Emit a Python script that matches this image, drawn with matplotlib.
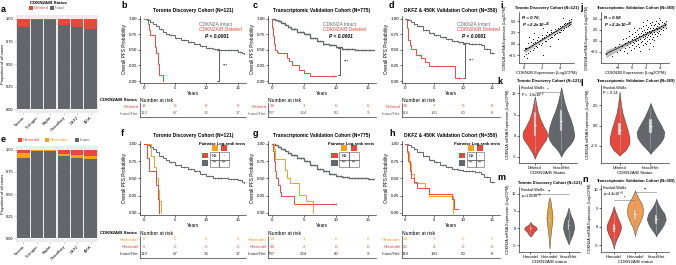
import numpy as np
import matplotlib
matplotlib.use("Agg")
import matplotlib.pyplot as plt
from matplotlib.patches import Rectangle

plt.rcParams['font.family'] = ['Liberation Sans', 'DejaVu Sans']
plt.rcParams['axes.linewidth'] = 0.4
plt.rcParams['xtick.major.width'] = 0.4
plt.rcParams['ytick.major.width'] = 0.4
plt.rcParams['xtick.major.size'] = 1.2
plt.rcParams['ytick.major.size'] = 1.2
plt.rcParams['xtick.major.pad'] = 1
plt.rcParams['ytick.major.pad'] = 1
plt.rcParams['axes.labelpad'] = 1
plt.rcParams['mathtext.default'] = 'regular'

# ---------------- data ----------------
cohorts = ["Toronto", "Tubingen", "Baylor", "Choudhury", "DKFZ", "450K"]
deleted_prop = [0.09, 0.02, 0.02, 0.07, 0.09, 0.11]
intact_prop = [0.91, 0.98, 0.98, 0.93, 0.91, 0.89]
homodel_prop = [0.04, 0.005, 0.01, 0.05, 0.06, 0.07]
heterodel_prop = [0.05, 0.015, 0.01, 0.02, 0.03, 0.04]

year_ticks = [0, 5, 10, 15]

# Toronto (b / f)
b_intact_t = [0, 0.5, 1.0, 1.5, 2.0, 2.5, 3.0, 3.5, 4.0, 5.0, 6.0, 7.0, 8.0, 9.0, 10.0, 11.0, 12.0, 13.5, 15.0, 15.6, 16.0]
b_intact_s = [1.0, 0.98, 0.95, 0.92, 0.88, 0.83, 0.79, 0.76, 0.73, 0.69, 0.66, 0.63, 0.60, 0.56, 0.53, 0.51, 0.50, 0.49, 0.47, 0.45, 0.43]
b_intact_cens = [2.8, 3.6, 4.3, 5.2, 5.9, 6.4, 7.1, 7.6, 8.2, 8.8, 9.3, 9.9, 10.4, 10.9, 11.3, 11.8, 12.3, 12.9, 13.4, 13.9, 14.4, 14.9, 15.3]
b_del_t = [0, 0.6, 0.8, 1.0, 1.8, 2.0, 2.2, 2.5, 3.0]
b_del_s = [1.0, 0.91, 0.82, 0.73, 0.55, 0.45, 0.27, 0.09, 0.0]

# Transcriptomic (c / g)
c_intact_t = [0, 0.5, 1, 1.5, 2, 2.5, 3, 4, 5, 6, 7, 8, 9, 10, 11, 12, 13, 14, 15, 16]
c_intact_s = [1, 0.98, 0.96, 0.93, 0.90, 0.87, 0.84, 0.79, 0.75, 0.69, 0.64, 0.60, 0.57, 0.54, 0.52, 0.51, 0.50, 0.50, 0.49, 0.49]
c_intact_cens = [0.4, 0.7, 1.1, 1.3, 1.7, 1.9, 2.2, 2.6, 2.8, 3.1, 3.5, 3.7, 4.0, 4.4, 4.6, 4.9, 5.3, 5.5, 5.8, 6.2, 6.4, 6.7, 7.1, 7.3, 7.6, 8.0, 8.2, 8.5, 8.9, 9.1, 9.4, 9.8, 10.0,
                 10.4, 10.9, 11.2, 11.7, 12.0, 12.6, 13.0, 13.5, 14.1, 14.6, 15.2]
c_del_t = [0, 0.1, 0.2, 0.3, 0.5, 0.8, 1.0, 2.3, 2.7, 3.2, 4.2, 5.0, 6.0, 10.0]
c_del_s = [1, 0.85, 0.72, 0.60, 0.50, 0.47, 0.45, 0.37, 0.32, 0.26, 0.18, 0.13, 0.08, 0.08]
c_del_cens = [9.4, 9.8]

# DKFZ & 450K (d / h)
d_intact_t = [0, 0.5, 1, 1.5, 2, 3, 4, 5, 6, 7, 8, 9, 10, 11, 12, 13, 13.6, 14.6, 15.2]
d_intact_s = [1, 0.98, 0.95, 0.92, 0.88, 0.82, 0.77, 0.73, 0.70, 0.67, 0.64, 0.62, 0.61, 0.60, 0.59, 0.57, 0.52, 0.45, 0.45]
d_intact_cens = [1.5, 2.3, 3.0, 3.6, 4.2, 4.8, 5.3, 5.9, 6.4, 6.9, 7.4, 7.9, 8.4, 8.9, 9.4, 9.9, 10.4, 10.9, 11.5, 12.0, 12.6, 13.2, 14.0, 14.9]
d_del_t = [0, 0.3, 0.5, 0.8, 1.0, 1.8, 2.7, 3.4, 4.0, 8.6, 9.5]
d_del_s = [1, 0.85, 0.65, 0.58, 0.52, 0.42, 0.37, 0.30, 0.24, 0.05, 0.05]
d_del_cens = [2.5, 5.5, 9.3]

f_het_t = [0, 1.2, 1.7, 2.0, 2.2, 2.4, 2.8]
f_het_s = [1, 0.83, 0.67, 0.50, 0.33, 0.17, 0.0]
f_homo_t = [0, 0.5, 0.8, 2.0, 2.2, 2.4]
f_homo_s = [1, 0.80, 0.60, 0.40, 0.20, 0.0]

g_het_t = [0, 0.3, 0.5, 2.1, 2.4, 2.8, 4.3, 5.4, 6.5]
g_het_s = [1, 0.93, 0.78, 0.62, 0.50, 0.43, 0.26, 0.17, 0.0]
g_homo_t = [0, 0.2, 0.4, 0.5, 0.7, 0.9, 1.2, 1.5, 3.5, 10.0]
g_homo_s = [1, 0.90, 0.75, 0.60, 0.50, 0.40, 0.30, 0.25, 0.125, 0.125]
g_homo_cens = [9.5, 10.0]

h_het_t = [0, 0.3, 0.6, 0.9, 1.5, 3.3, 4.0, 8.2]
h_het_s = [1, 0.86, 0.72, 0.57, 0.43, 0.36, 0.24, 0.0]
h_homo_t = [0, 0.2, 0.5, 0.8, 1.0, 1.5, 2.0, 4.0, 8.0, 8.3, 9.0]
h_homo_s = [1, 0.90, 0.75, 0.60, 0.50, 0.45, 0.36, 0.27, 0.20, 0.05, 0.05]

# numbers at risk (at 0, 5, 10, 15 years)
b_risk_deleted = [11, 0, 0, 0]
b_risk_intact = [110, 67, 36, 17]
c_risk_deleted = [38, 3, 0, 0]
c_risk_intact = [737, 264, 80, 9]
d_risk_deleted = [34, 7, 0, 0]
d_risk_intact = [316, 181, 60, 8]
f_risk_het = [6, 0, 0, 0]
f_risk_homo = [5, 0, 0, 0]
g_risk_het = [14, 1, 0, 0]
g_risk_homo = [24, 2, 0, 0]
h_risk_het = [14, 3, 0, 0]
h_risk_homo = [20, 4, 0, 0]

pairwise_cells = [["NS", "-"], ["***", "***"]]

# scatter i (Toronto)
i_x = [0.1, 0.2, 0.3, 0.3, 0.4, 0.5, 0.5, 0.6, 0.7, 0.8, 0.9, 1.0, 1.0, 1.1, 1.2, 1.3, 1.4, 1.5, 1.5, 1.6,
       1.7, 1.8, 1.9, 2.0, 2.0, 2.1, 2.2, 2.3, 2.4, 2.5, 2.5, 2.6, 2.7, 2.8, 2.9, 3.0, 3.0, 3.1, 3.2, 3.3,
       3.4, 3.5, 3.5, 3.6, 3.7, 3.8, 3.9, 4.0, 4.0, 4.1, 4.2, 4.3, 4.4, 4.5, 4.5, 4.6, 4.7, 4.8, 4.9, 5.0,
       5.0, 5.1, 5.2, 5.3, 0.6, 1.2, 2.2, 2.9, 3.8, 4.4]
i_y = [-2.6, -0.9, -2.2, -1.0, -3.2, -1.9, 0.2, -0.6, -1.5, 0.5, -0.3, -1.4, 0.1, 1.0, -0.9, 0.4, -0.5, 0.9, -0.6, 1.5,
       0.0, 0.8, -0.2, 1.2, 0.1, 2.0, -2.4, 1.5, 0.6, 1.9, 0.7, 2.5, 1.0, 2.2, 1.2, 2.6, 1.5, 3.0, 1.6, 2.6,
       1.9, 3.2, 2.2, 2.9, 2.3, 3.5, 2.6, 3.4, 2.5, 4.0, 3.0, 3.9, 3.1, 4.3, 3.5, 4.6, 3.7, 4.5, 4.0, 4.9,
       4.2, 5.2, 4.4, 5.4, 1.5, 2.4, 3.4, -0.5, 1.0, 5.6]

# scatter j (Transcriptomic)
j_x = [-3.8, -3.2, -2.9, -2.5, -2.2, -1.9, -1.7, -1.5, -1.4, -1.2, -1.1, -1.0, -0.9, -0.8, -0.7, -0.6, -0.5, -0.4, -0.3, -0.2,
       -0.1, 0.0, 0.0, 0.1, 0.2, 0.2, 0.3, 0.4, 0.4, 0.5, 0.5, 0.6, 0.7, 0.7, 0.8, 0.8, 0.9, 1.0, 1.0, 1.0,
       1.1, 1.2, 1.2, 1.3, 1.3, 1.4, 1.4, 1.5, 1.5, 1.6, 1.6, 1.7, 1.7, 1.8, 1.8, 1.9, 1.9, 2.0, 2.0, 2.0,
       2.1, 2.1, 2.2, 2.2, 2.3, 2.3, 2.4, 2.4, 2.5, 2.5, 2.5, 2.6, 2.6, 2.7, 2.7, 2.8, 2.8, 2.9, 2.9, 3.0,
       3.0, 3.1, 3.1, 3.2, 3.2, 3.3, 3.3, 3.4, 3.4, 3.5, 3.5, 3.6, 3.6, 3.7, 3.7, 3.8, 3.9, 3.9, 4.0, 4.0,
       4.1, 4.2, 4.3, 4.4, 4.5, 4.6, 4.7, 4.8, 4.9, 1.1, 2.4, 3.0, 0.3, -0.5, 1.6, 2.2, 3.8]
j_y = [-3.0, -2.2, -3.4, -1.5, -2.6, -0.8, -2.0, -1.2, 0.3, -2.4, -0.5, -1.6, 0.6, -1.0, -2.8, 0.0, -1.3, 1.2, -0.6, -2.0,
       0.5, -0.9, 1.6, -0.2, -1.7, 0.9, -0.5, 2.0, 0.2, -1.1, 1.0, -0.1, 2.4, 0.6, -0.7, 1.5, 0.2, 2.8, 1.0, -1.4,
       0.4, 1.8, -0.3, 1.1, 3.0, 0.0, 2.2, 0.8, -1.0, 1.6, 3.4, 0.3, 2.5, 1.2, -0.4, 2.0, 0.7, 3.6, 1.5, -0.8,
       2.6, 0.9, 1.9, -0.1, 3.1, 1.3, 2.2, 0.4, 4.0, 1.7, -0.6, 2.8, 1.0, 2.1, 3.6, 0.5, 2.5, 1.5, 4.2, 2.9,
       0.9, 3.5, 1.9, 2.4, 0.2, 3.9, 1.6, 2.9, 4.5, 2.1, 1.0, 3.3, 2.6, 4.1, 1.8, 3.0, 3.7, 2.3, 4.6, 1.5,
       3.4, 2.7, 4.2, 3.2, 2.4, 4.0, 3.5, 4.5, 3.0, -2.2, -1.9, -1.2, 3.0, 2.3, 4.2, 4.7, 5.2]

# violins: y-levels and half-widths (category units)
k_del_y = [9.3, 8.0, 6.0, 4.0, 2.0, 1.0, 0.0, -1.0, -2.0, -3.0, -4.0, -5.0, -5.5]
k_del_w = [0.0, 0.04, 0.10, 0.20, 0.35, 0.45, 0.47, 0.42, 0.30, 0.20, 0.10, 0.03, 0.0]
k_int_y = [11.5, 10.0, 8.0, 6.0, 4.0, 2.0, 0.0, -1.0, -2.0, -3.0, -4.0, -5.0]
k_int_w = [0.0, 0.05, 0.12, 0.22, 0.35, 0.45, 0.50, 0.45, 0.35, 0.20, 0.08, 0.0]
k_box = [dict(q1=0.0, med=2.5, q3=5.5, lo=-4.0, hi=8.5), dict(q1=1.0, med=3.5, q3=6.0, lo=-3.5, hi=10.0)]

l_del_y = [4.2, 3.5, 2.5, 1.5, 0.5, -0.5, -1.5, -2.2, -3.0, -3.5, -3.7]
l_del_w = [0.0, 0.02, 0.05, 0.10, 0.18, 0.26, 0.32, 0.32, 0.20, 0.05, 0.0]
l_int_y = [2.8, 2.0, 1.0, 0.0, -0.8, -1.5, -2.2, -2.8, -3.3, -3.5]
l_int_w = [0.0, 0.08, 0.20, 0.35, 0.45, 0.42, 0.30, 0.15, 0.03, 0.0]
l_box = [dict(q1=-1.2, med=-0.5, q3=0.3, lo=-3.0, hi=2.5), dict(q1=-0.9, med=-0.1, q3=0.8, lo=-2.8, hi=2.2)]

m_homo_y = [1.8, 1.0, 0.3, -0.3, -1.0, -2.0, -2.5]
m_homo_w = [0.0, 0.10, 0.30, 0.33, 0.20, 0.08, 0.0]
m_het_y = [9.0, 8.0, 6.0, 4.0, 3.0, 2.0, 0.0, -2.0, -4.0, -6.0]
m_het_w = [0.0, 0.05, 0.10, 0.15, 0.16, 0.15, 0.10, 0.06, 0.03, 0.0]
m_int_y = [6.0, 4.0, 2.0, 0.0, -2.0, -4.0, -4.8]
m_int_w = [0.0, 0.10, 0.25, 0.30, 0.20, 0.05, 0.0]
m_box = [dict(q1=-0.6, med=0.0, q3=0.5, lo=-1.8, hi=1.2), dict(q1=0.5, med=2.5, q3=4.5, lo=-4.0, hi=8.0),
         dict(q1=-0.5, med=1.0, q3=2.5, lo=-3.5, hi=5.0)]

n_homo_y = [5.5, 4.0, 2.0, 0.5, -0.5, -2.0, -3.5, -5.0, -6.0]
n_homo_w = [0.0, 0.08, 0.22, 0.33, 0.34, 0.25, 0.12, 0.03, 0.0]
n_het_y = [9.8, 9.0, 7.5, 6.0, 4.5, 3.0, 1.5, 0.0, -1.5, -2.5]
n_het_w = [0.0, 0.05, 0.18, 0.33, 0.38, 0.35, 0.25, 0.12, 0.04, 0.0]
n_int_y = [7.5, 6.5, 5.0, 3.5, 2.0, 0.5, -1.0, -2.0, -2.6]
n_int_w = [0.0, 0.06, 0.20, 0.38, 0.45, 0.35, 0.18, 0.05, 0.0]
n_box = [dict(q1=-1.3, med=-0.3, q3=0.8, lo=-4.5, hi=3.5), dict(q1=1.8, med=3.3, q3=4.8, lo=-1.0, hi=8.0),
         dict(q1=0.8, med=2.0, q3=3.2, lo=-1.5, hi=6.0)]

# ---------------- style ----------------
RED = "#E8473C"
GRAY = "#63676C"
ORANGE = "#F5A21B"
LORANGE = "#F59A4E"
BG = "#EBEBEB"
FS = 3.2
FL = 3.4
FT = 3.5
FTS = 2.9
FP = 6.5

W, H = 676, 265
fig = plt.figure(figsize=(W / 100, H / 100), dpi=100)


def px_ax(x0, y0, x1, y1):
    return fig.add_axes([x0 / W, 1 - y1 / H, (x1 - x0) / W, (y1 - y0) / H])


def ftext(x, y, s, **kw):
    kw.setdefault('fontsize', FS)
    fig.text(x / W, 1 - y / H, s, **kw)


def fsquare(x, y, w, h, color):
    fig.add_artist(Rectangle((x / W, 1 - (y + h) / H), w / W, h / H,
                             transform=fig.transFigure, color=color, lw=0))


def letter(x, y, s):
    ftext(x, y, s, fontsize=FP, fontweight='bold', va='center', ha='left')


def clean(ax):
    ax.spines['top'].set_visible(False)
    ax.spines['right'].set_visible(False)
    ax.tick_params(labelsize=FS)


# ---------------- a / e : stacked bars ----------------
def bar_axes(y0, y1):
    ax = px_ax(16, y0, 98, y1)
    ax.set_facecolor(BG)
    ax.set_xlim(-0.55, len(cohorts) - 0.45)
    ax.set_ylim(-0.04, 1.04)
    ax.set_yticks([0, 0.25, 0.5, 0.75, 1.0])
    ax.set_yticklabels(['0.00', '0.25', '0.50', '0.75', '1.00'])
    ax.set_xticks(np.arange(len(cohorts)))
    ax.set_xticklabels(cohorts, rotation=45, ha='right', rotation_mode='anchor')
    ax.grid(color='white', lw=0.5)
    ax.set_axisbelow(True)
    for s in ax.spines.values():
        s.set_visible(False)
    ax.tick_params(labelsize=2.9, length=1, color='#555555', pad=0.8)
    ax.set_ylabel("Proportion of all cases", fontsize=3.0, labelpad=0.6)
    return ax


xa = np.arange(len(cohorts))
ax = bar_axes(15, 113)
ax.bar(xa, intact_prop, width=0.92, color=GRAY, zorder=2)
ax.bar(xa, deleted_prop, bottom=intact_prop, width=0.92, color=RED, zorder=2)
ftext(48, 3, "CDKN2A/B Status", fontweight='bold', ha='center', va='center')
fsquare(29, 6, 4, 3.5, RED)
ftext(34, 8, "Deleted", color=RED, va='center')
fsquare(50, 6, 4, 3.5, GRAY)
ftext(55, 8, "Intact", color=GRAY, va='center')
letter(1, 9, "a")

ax = bar_axes(146, 242)
int2 = [1 - a - b for a, b in zip(homodel_prop, heterodel_prop)]
ax.bar(xa, int2, width=0.92, color=GRAY, zorder=2)
ax.bar(xa, heterodel_prop, bottom=int2, width=0.92, color=ORANGE, zorder=2)
ax.bar(xa, homodel_prop, bottom=[a + b for a, b in zip(int2, heterodel_prop)], width=0.92, color=RED, zorder=2)
fsquare(18, 138, 4, 3.5, RED)
ftext(23, 140, "Homodel", color=RED, va='center')
fsquare(45, 138, 4, 3.5, ORANGE)
ftext(50, 140, "Heterodel", color=ORANGE, va='center')
fsquare(75, 138, 4, 3.5, GRAY)
ftext(80, 140, "Intact", color=GRAY, va='center')
letter(1, 140, "e")


# ---------------- KM helpers ----------------
def km_axes(x0, y0, x1, y1, title):
    ax = px_ax(x0, y0, x1, y1)
    ax.set_xlim(-0.6, 16.3)
    ax.set_ylim(-0.03, 1.04)
    ax.set_xticks(year_ticks)
    ax.set_yticks([0, 0.25, 0.5, 0.75, 1.0])
    ax.set_yticklabels(['0.00', '0.25', '0.50', '0.75', '1.00'])
    clean(ax)
    ax.set_xlabel("Years", fontsize=FL)
    ax.set_ylabel("Overall PFS Probability", fontsize=FL)
    ax.set_title(title, fontsize=FT, fontweight='bold', pad=3)
    return ax


def km_curve(ax, t, s, color, cens=None, lw=0.7):
    ax.step(t, s, where='post', color=color, lw=lw, solid_joinstyle='miter')
    if cens:
        idx = np.searchsorted(t, cens, side='right') - 1
        ys = np.asarray(s)[idx]
        ax.plot(cens, ys, ls='none', marker='|', ms=2.0, mew=0.4, color=color)


def km_legend(ax, x):
    ax.text(x, 0.90, "CDKN2A Intact", color=GRAY, fontsize=FS + 0.3, va='center')
    ax.text(x, 0.83, "CDKN2A/B Deleted", color=RED, fontsize=FS + 0.3, va='center')
    ax.text(x + 1.0, 0.72, "P < 0.0001", color='black', fontsize=FS + 0.3, va='center',
            fontweight='bold', style='italic')


def bracket(ax, x, y0, y1, xs):
    ax.plot([x - 0.3, x, x, x - 0.3], [y0, y0, y1, y1], color='#444444', lw=0.6)
    ax.text(xs, (y0 + y1) / 2, "***", fontsize=FS, va='center', ha='left')


def risk_table(x0, y0, x1, y1, rows, labels, colors):
    ax = px_ax(x0, y0, x1, y1)
    ax.set_xlim(-0.6, 16.3)
    n = len(rows)
    ax.set_ylim(-0.55, n - 0.55)
    for i, (vals, c) in enumerate(zip(rows, colors)):
        y = n - 1 - i
        for xt, v in zip(year_ticks, vals):
            ax.text(xt, y, str(v), color=c, fontsize=FS, ha='center', va='center')
    ax.set_yticks(list(range(n - 1, -1, -1)))
    ax.set_yticklabels(labels)
    for lbl, c in zip(ax.get_yticklabels(), colors):
        lbl.set_color(c)
    ax.set_xticks([])
    ax.tick_params(axis='y', length=0, labelsize=FS, pad=1)
    ax.spines['top'].set_visible(False)
    ax.spines['right'].set_visible(False)
    ax.set_title("Number at risk", loc='left', fontsize=FS + 0.4, pad=1)
    return ax


def pairwise_inset(ax):
    tr = ax.transAxes
    ax.text(0.77, 0.985, "Pairwise Log-rank tests", transform=tr, fontsize=FS - 0.2,
            fontweight='bold', ha='center', va='top')
    for cx, c in [(0.705, ORANGE), (0.795, RED)]:
        ax.add_patch(Rectangle((cx - 0.03, 0.865), 0.06, 0.075, transform=tr, color=c, lw=0))
    for cy, c in [(0.765, RED), (0.665, GRAY)]:
        ax.add_patch(Rectangle((0.585, cy), 0.06, 0.075, transform=tr, color=c, lw=0))
    for i in range(2):
        for j in range(2):
            x0 = 0.66 + j * 0.09
            y0 = 0.75 - i * 0.1
            ax.add_patch(Rectangle((x0, y0), 0.09, 0.1, transform=tr, fill=False,
                                   ec='#555555', lw=0.4))
            ax.text(x0 + 0.045, y0 + 0.05, pairwise_cells[i][j], transform=tr,
                    fontsize=FS - 0.4, ha='center', va='center')


# ---------------- b, c, d ----------------
titles = ["Toronto Discovery Cohort (N=121)", "Transcriptomic Validation Cohort (N=775)",
          "DKFZ & 450K Validation Cohort (N=350)"]

ax = km_axes(140, 16, 246, 83, titles[0])
km_curve(ax, b_intact_t, b_intact_s, GRAY, b_intact_cens)
km_curve(ax, b_del_t, b_del_s, RED)
km_legend(ax, 8.8)
bracket(ax, 12.0, 0.49, 0.0, 12.6)
risk_table(140, 103, 246, 117, [b_risk_deleted, b_risk_intact], ["Deleted", "Intact/Het"], [RED, GRAY])
ftext(137, 100, "CDKN2A/B Status", fontweight='bold', ha='right', va='center')
letter(121, 6, "b")

ax = km_axes(268, 16, 376, 83, titles[1])
km_curve(ax, c_intact_t, c_intact_s, GRAY, c_intact_cens, lw=0.9)
km_curve(ax, c_del_t, c_del_s, RED, c_del_cens)
km_legend(ax, 8.0)
bracket(ax, 10.7, 0.53, 0.09, 11.3)
risk_table(268, 103, 376, 117, [c_risk_deleted, c_risk_intact], ["Deleted", "Intact/Het"], [RED, GRAY])
letter(253, 6, "c")

ax = km_axes(402, 16, 500, 83, titles[2])
km_curve(ax, d_intact_t, d_intact_s, GRAY, d_intact_cens)
km_curve(ax, d_del_t, d_del_s, RED, d_del_cens)
km_legend(ax, 8.8)
bracket(ax, 10.3, 0.60, 0.05, 11.0)
risk_table(402, 103, 500, 117, [d_risk_deleted, d_risk_intact], ["Deleted", "Intact/Het"], [RED, GRAY])
letter(389, 6, "d")

# ---------------- f, g, h ----------------
ax = km_axes(140, 141, 246, 215, titles[0])
km_curve(ax, b_intact_t, b_intact_s, GRAY, b_intact_cens)
km_curve(ax, f_het_t, f_het_s, ORANGE)
km_curve(ax, f_homo_t, f_homo_s, RED)
pairwise_inset(ax)
risk_table(140, 236, 246, 258, [f_risk_het, f_risk_homo, b_risk_intact],
           ["Heterodel", "Homodel", "Intact/Het"], [ORANGE, RED, "#333333"])
ftext(137, 233, "CDKN2A/B Status", fontweight='bold', ha='right', va='center')
letter(121, 134, "f")

ax = km_axes(268, 141, 376, 215, titles[1])
km_curve(ax, c_intact_t, c_intact_s, GRAY, c_intact_cens, lw=0.9)
km_curve(ax, g_het_t, g_het_s, ORANGE)
km_curve(ax, g_homo_t, g_homo_s, RED, g_homo_cens)
pairwise_inset(ax)
risk_table(268, 236, 376, 258, [g_risk_het, g_risk_homo, c_risk_intact],
           ["Heterodel", "Homodel", "Intact/Het"], [ORANGE, RED, "#333333"])
letter(253, 134, "g")

ax = km_axes(402, 141, 500, 215, titles[2])
km_curve(ax, d_intact_t, d_intact_s, GRAY, d_intact_cens)
km_curve(ax, h_het_t, h_het_s, ORANGE)
km_curve(ax, h_homo_t, h_homo_s, RED)
pairwise_inset(ax)
risk_table(402, 236, 500, 258, [h_risk_het, h_risk_homo, d_risk_intact],
           ["Heterodel", "Homodel", "Intact/Het"], [ORANGE, RED, "#333333"])
letter(389, 134, "h")


# ---------------- i, j : scatter ----------------
def scatter_panel(x0, x1, x, y, title, rtxt, xlim, ylim, xt, yt):
    ax = px_ax(x0, 12, x1, 63)
    x = np.asarray(x, float)
    y = np.asarray(y, float)
    b, a = np.polyfit(x, y, 1)
    xs = np.linspace(x.min(), x.max(), 50)
    n = len(x)
    resid = y - (a + b * x)
    s = np.sqrt(np.sum(resid ** 2) / (n - 2))
    se = s * np.sqrt(1 / n + (xs - x.mean()) ** 2 / np.sum((x - x.mean()) ** 2))
    ys = a + b * xs
    ax.fill_between(xs, ys - 2.2 * se, ys + 2.2 * se, color='#BDBDBD', lw=0, zorder=1)
    ax.plot(xs, ys, color='#2B2B2B', lw=0.6, zorder=2)
    ax.scatter(x, y, s=0.5, color='black', lw=0, zorder=3)
    ax.set_xlim(*xlim)
    ax.set_ylim(*ylim)
    ax.set_xticks(xt)
    ax.set_yticks(yt)
    clean(ax)
    ax.tick_params(labelsize=2.7)
    ax.set_title(title, fontsize=FTS, fontweight='bold', pad=2)
    ax.set_xlabel("CDKN2B Expression (Log2CPM)", fontsize=3.0)
    ax.set_ylabel("CDKN2A mRNA Expression (Log2CPM)", fontsize=2.6)
    ax.text(0.05, 0.93, rtxt[0], transform=ax.transAxes, fontsize=FS, fontweight='bold',
            style='italic', va='top')
    ax.text(0.05, 0.82, rtxt[1], transform=ax.transAxes, fontsize=FS, fontweight='bold',
            style='italic', va='top')
    return ax


scatter_panel(519, 574, i_x, i_y, "Toronto Discovery Cohort (N=121)",
              ["R = 0.76,", "P = 2.2x10$^{-16}$"], (-0.5, 5.6), (-4.2, 7.0), [0, 2, 4], [-2.5, 0, 2.5, 5])
letter(500, 5, "i")
scatter_panel(601, 669, j_x, j_y, "Transcriptomic Validation Cohort (N=369)",
              ["R = 0.58", "P = 2.2x10$^{-16}$"], (-4.5, 5.3), (-5.0, 6.5), [-2, 0, 2, 4], [-2.5, 0, 2.5, 5])
letter(580, 8, "j")


# ---------------- k, l, m, n : violins ----------------
def violin_panel(x0, y0, x1, y1, title, shapes, colors, boxes, labels, ylim, yt, ytl, xlabel, kw_txt):
    ax = px_ax(x0, y0, x1, y1)
    ncat = len(shapes)
    for pos, (ys, ws), c in zip(range(1, ncat + 1), shapes, colors):
        ys = np.asarray(ys)
        ws = np.asarray(ws)
        ax.fill_betweenx(ys, pos - ws, pos + ws, facecolor=c, edgecolor='#333333', lw=0.3, zorder=2)
    stats = [dict(med=b['med'], q1=b['q1'], q3=b['q3'], whislo=b['lo'], whishi=b['hi'], fliers=[])
             for b in boxes]
    ax.bxp(stats, positions=list(range(1, ncat + 1)), widths=0.09, patch_artist=True,
           showcaps=False, manage_ticks=False,
           boxprops=dict(facecolor='#D9D9D9', edgecolor='#8C8C8C', lw=0.3),
           medianprops=dict(color='white', lw=0.6),
           whiskerprops=dict(color='#A0A0A0', lw=0.5), zorder=3)
    ax.set_xlim(0.4, ncat + 0.6)
    ax.set_ylim(*ylim)
    ax.set_xticks(list(range(1, ncat + 1)))
    ax.set_xticklabels(labels)
    ax.set_yticks(yt)
    ax.set_yticklabels(ytl)
    clean(ax)
    ax.tick_params(labelsize=2.9)
    ax.set_title(title, fontsize=FTS, fontweight='bold', pad=2)
    ax.set_xlabel(xlabel, fontsize=3.2)
    ax.set_ylabel("CDKN2A mRNA Expression (Log2CPM)", fontsize=2.8)
    ax.text(0.03, 0.985, kw_txt[0], transform=ax.transAxes, fontsize=2.8, va='top')
    ax.text(0.03, 0.925, kw_txt[1], transform=ax.transAxes, fontsize=2.8, va='top')
    return ax


def sig(ax, xa_, xb_, y, txt):
    ax.plot([xa_, xb_], [y, y], color='#777777', lw=0.4)
    ax.text((xa_ + xb_) / 2, y, txt, fontsize=FS, ha='center', va='bottom')


ax = violin_panel(519, 85, 577, 163, "Toronto Discovery Cohort (N=121)",
                  [(k_del_y, k_del_w), (k_int_y, k_int_w)], [RED, GRAY], k_box,
                  ["Deleted", "Intact/Het"], (-6.5, 12.0), [-5, 0, 5, 10], ["-5", "0", "5", "10"],
                  "CDKN2A/B Status", ["Kruskal-Wallis", "P = 1.6x10$^{-2}$"])
sig(ax, 1.0, 2.0, 10.4, "*")
letter(497, 82, "k")

ax = violin_panel(601, 85, 669, 163, "Transcriptomic Validation Cohort (N=369)",
                  [(l_del_y, l_del_w), (l_int_y, l_int_w)], [RED, GRAY], l_box,
                  ["Deleted", "Intact/Het"], (-4.6, 5.0), [-2.5, 0, 2.5], ["-2.5", "0.0", "2.5"],
                  "CDKN2A/B Status", ["Kruskal-Wallis", "P = 0.14"])
letter(580, 84, "l")

ax = violin_panel(519, 187, 580, 252, "Toronto Discovery Cohort (N=121)",
                  [(m_homo_y, m_homo_w), (m_het_y, m_het_w), (m_int_y, m_int_w)], [RED, ORANGE, GRAY], m_box,
                  ["Homodel", "Heterodel", "Intact/Het"], (-7.0, 12.0), [-5, 0, 5, 10], ["-5", "0", "5", "10"],
                  "CDKN2A/B status", ["Kruskal-Wallis", "p=1.0x10$^{-3}$"])
sig(ax, 1.0, 3.0, 10.0, "**")
letter(497, 178, "m")

ax = violin_panel(601, 185, 669, 252, "Transcriptomic Validation Cohort (N=369)",
                  [(n_homo_y, n_homo_w), (n_het_y, n_het_w), (n_int_y, n_int_w)], [RED, LORANGE, GRAY], n_box,
                  ["Homodel", "Heterodel", "Intact/Het"], (-6.8, 11.2), [-5, 0, 5, 10], ["-5", "0", "5", "10"],
                  "CDKN2A/B status", ["Kruskal-Wallis", "p=4.4x10$^{-3}$"])
sig(ax, 1.0, 2.0, 7.2, "*")
sig(ax, 2.0, 3.0, 9.3, "**")
letter(582, 180, "n")

fig.savefig("out.png", dpi=100, facecolor='white')
